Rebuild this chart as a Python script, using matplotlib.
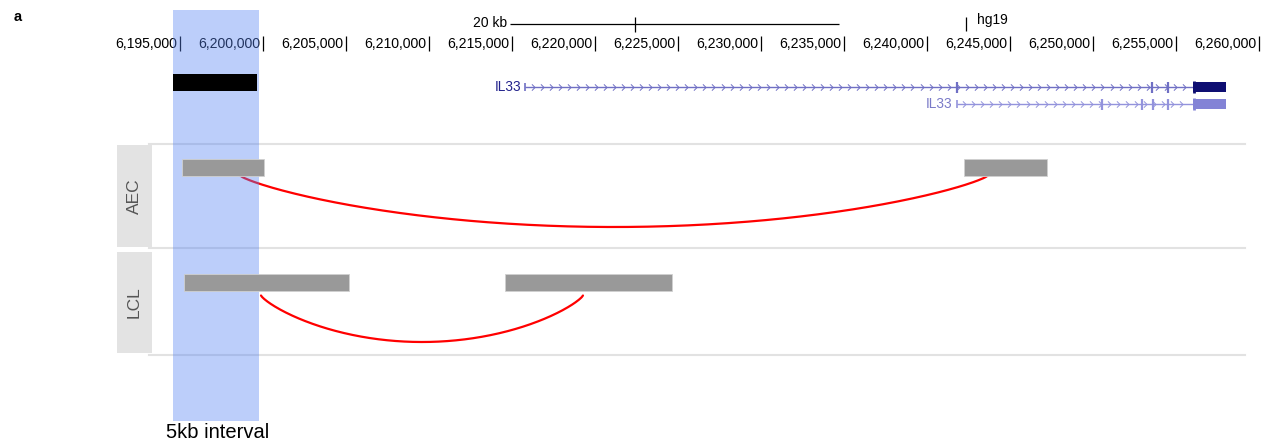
import numpy as np
import matplotlib.pyplot as plt
from matplotlib.patches import Rectangle
from matplotlib.path import Path

plt.rcParams['font.family'] = ['Liberation Sans', 'DejaVu Sans']

# hg19 chr9 window
ruler_ticks = np.arange(6195000, 6260001, 5000)
view = (6184157, 6260723)
scale_bar = (6214880, 6234700)
scale_tick = 6222410
assembly_tick = 6242349

interval = (6194560, 6199777)
query_region = (6194560, 6199620)

# IL33 transcripts
tx_names = ['IL33', 'IL33']
tx_starts = [6215786, 6241790]
tx_exons = [[6241807, 6253572, 6254536],
            [6250560, 6252934, 6253633, 6254536]]
tx_last_exon = [(6256042, 6257983), (6256042, 6257983)]

# chromatin interactions by cell type
cell_types = ['AEC', 'LCL']
anchor_left = [(6195100, 6200050), (6195240, 6205190)]
anchor_right = [(6242230, 6247230), (6214600, 6224610)]
arc_from = [6198615, 6199880]
arc_to = [6243675, 6219275]

fig = plt.figure(figsize=(12.71, 4.46), dpi=100)
ax = fig.add_axes([0, 0, 1, 1])
ax.set_xlim(*view)
ax.set_ylim(446, 0)
ax.axis('off')
ytrans = ax.get_yaxis_transform()

# ruler
ax.vlines(ruler_ticks, 36, 51, color='black', lw=0.9)
for t in ruler_ticks:
    ax.text(t - 150, 44, f'{t:,}', ha='right', va='center', fontsize=10.1)
ax.hlines(24, *scale_bar, color='black', lw=0.9)
ax.vlines(scale_tick, 17, 32, color='black', lw=0.9)
ax.text(scale_bar[0] - 200, 23, '20 kb', ha='right', va='center', fontsize=10)
ax.vlines(assembly_tick, 17, 31, color='black', lw=0.9)
ax.text(assembly_tick + 650, 20, 'hg19', ha='left', va='center', fontsize=10)

# highlighted interval
ax.add_patch(Rectangle((interval[0], 10), interval[1] - interval[0], 411,
                       facecolor='#5885f3', alpha=0.4, lw=0, zorder=3))
ax.add_patch(Rectangle((query_region[0], 74), query_region[1] - query_region[0], 17,
                       facecolor='black', lw=0, zorder=4))
ax.text(6194157, 433, '5kb interval', ha='left', va='center', fontsize=14.5)

# gene models
chevron = Path([(-0.5, 1), (0.5, 0), (-0.5, -1)],
               [Path.MOVETO, Path.LINETO, Path.LINETO])
rows = [dict(y=87, line='#6f6fc4', block='#0e0e72', label='#22228c'),
        dict(y=104, line='#9393dc', block='#8383d6', label='#7a7ac8')]
for name, start, exons, last, st in zip(tx_names, tx_starts, tx_exons, tx_last_exon, rows):
    y = st['y']
    ax.hlines(y, start, last[0], color=st['line'], lw=1.0, zorder=4)
    marks = np.arange(start + 450, last[0] - 200, 545)
    ax.plot(marks, np.full(len(marks), y), ls='none', marker=chevron, ms=4.5,
            mew=0.7, mfc='none', mec=st['line'], zorder=4)
    ax.vlines(start, y - 4, y + 4, color=st['line'], lw=1.2, zorder=4)
    ax.vlines(exons, y - 5.5, y + 5.5, color=st['line'], lw=1.6, zorder=4)
    ax.add_patch(Rectangle((last[0], y - 5), last[1] - last[0], 10,
                           facecolor=st['block'], lw=0, zorder=4))
    ax.vlines(last[0] + 60, y - 6, y + 6, color=st['block'], lw=2.0, zorder=4)
    ax.text(start - 250, y, name, ha='right', va='center', fontsize=9.8,
            color=st['label'], zorder=5)

# interaction panels
panel_top = [144, 248]
panel_bottom = [248, 355]
bar_y = [(159, 176), (274, 290.5)]
arc_base = [175.5, 295.5]
arc_depth = [51.5, 46.5]
for (lo, hi), ct in zip([(145, 246.5), (251.5, 353)], cell_types):
    ax.add_patch(Rectangle((117 / 1271, lo), 35 / 1271, hi - lo, transform=ytrans,
                           facecolor='#e3e3e3', lw=0, zorder=2))
    ax.text(134.5 / 1271, (lo + hi) / 2, ct, transform=ytrans, rotation=90,
            ha='center', va='center', fontsize=12.5, color='#555555', zorder=5)
for yl in sorted(set(panel_top + panel_bottom)):
    ax.plot([149 / 1271, 1245 / 1271], [yl, yl], transform=ytrans,
            color='#e2e2e2', lw=1.5, zorder=1)

for i in range(len(cell_types)):
    y0, y1 = bar_y[i]
    for a, b in (anchor_left[i], anchor_right[i]):
        ax.add_patch(Rectangle((a, y0), b - a, y1 - y0, facecolor='#999999',
                               edgecolor='#d0d0d0', lw=0.6, zorder=4))
    xs = np.linspace(arc_from[i], arc_to[i], 300)
    t = (xs - arc_from[i]) / (arc_to[i] - arc_from[i])
    ys = arc_base[i] + arc_depth[i] * (4 * t * (1 - t)) ** 0.8
    ax.plot(xs, ys, color='#ff0000', lw=1.6, zorder=2, solid_capstyle='round')

fig.text(14 / 1271, 1 - 17 / 446, 'a', fontsize=10.5, fontweight='bold',
         ha='left', va='center')

fig.savefig('out.png', dpi=100)
